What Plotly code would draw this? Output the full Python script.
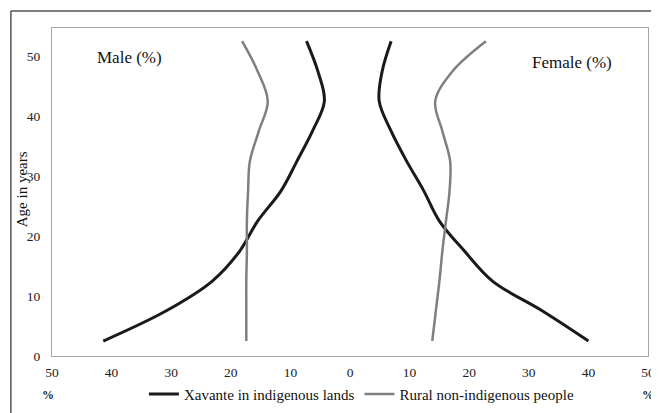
import plotly.graph_objects as go

ages = [2.5, 7.5, 12.5, 17.5, 22.5, 27.5, 32.5, 37.5, 42.5, 47.5, 52.5]
male_xavante = [41.4, 30.9, 23.1, 18.5, 15.5, 11.6, 8.9, 6.3, 4.3, 5.4, 7.3]
male_rural = [17.4, 17.4, 17.4, 17.3, 17.3, 17.1, 16.8, 15.3, 13.8, 15.5, 18.1]
female_xavante = [40.0, 32.3, 23.9, 19.2, 15.0, 12.4, 9.5, 6.9, 4.9, 5.4, 6.9]
female_rural = [13.8, 14.4, 15.0, 15.5, 16.1, 16.7, 16.8, 15.5, 14.3, 17.2, 22.8]

x_ticks = [-50, -40, -30, -20, -10, 0, 10, 20, 30, 40, 50]
x_labels = [str(abs(v)) for v in x_ticks]
y_ticks = [0, 10, 20, 30, 40, 50]

BLACK = "#1a1a1a"
GRAY = "#7f7f7f"
FONT = "Liberation Serif, Times New Roman, serif"

fig = go.Figure()
fig.add_trace(go.Scatter(x=[-v for v in male_xavante], y=ages, mode="lines",
                         line=dict(color=BLACK, width=3, shape="spline", smoothing=1),
                         name="Xavante in indigenous lands", legendgroup="x"))
fig.add_trace(go.Scatter(x=female_xavante, y=ages, mode="lines",
                         line=dict(color=BLACK, width=3, shape="spline", smoothing=1),
                         name="Xavante in indigenous lands", legendgroup="x", showlegend=False))
fig.add_trace(go.Scatter(x=[-v for v in male_rural], y=ages, mode="lines",
                         line=dict(color=GRAY, width=2.5, shape="spline", smoothing=1),
                         name="Rural non-indigenous people", legendgroup="r"))
fig.add_trace(go.Scatter(x=female_rural, y=ages, mode="lines",
                         line=dict(color=GRAY, width=2.5, shape="spline", smoothing=1),
                         name="Rural non-indigenous people", legendgroup="r", showlegend=False))

# page body has an 8px margin, so the figure is sized/offset to compensate
fig.update_layout(
    width=651, height=405,
    margin=dict(l=44, r=11, t=20, b=57, autoexpand=False),
    paper_bgcolor="white", plot_bgcolor="white",
    font=dict(family=FONT, size=13.5, color="#222"),
    showlegend=True,
    legend=dict(orientation="h", x=0.52, xanchor="center", y=-0.066, yanchor="top",
                font=dict(size=15, family=FONT, color="#111"), bgcolor="rgba(0,0,0,0)"),
    xaxis=dict(range=[-50, 50], tickvals=x_ticks, ticktext=x_labels, automargin=False,
               showgrid=False, zeroline=False, showline=True, linecolor="#a6a6a6",
               linewidth=1, mirror=True, ticks="", ticklabelstandoff=4,
               tickfont=dict(size=13.5, family=FONT, color="#222")),
    xaxis2=dict(range=[-50, 50], tickvals=[-50, 0, 50], overlaying="x", anchor="y",
                side="bottom", showgrid=False, zeroline=False, showline=False,
                automargin=False, ticks="outside", ticklen=4, tickcolor="#a6a6a6",
                showticklabels=False),
    yaxis=dict(range=[0, 54.7], tickvals=y_ticks, showgrid=False, zeroline=False,
               automargin=False,
               showline=True, linecolor="#a6a6a6", linewidth=1, mirror=True, ticks="",
               ticklabelstandoff=8, tickfont=dict(size=13.5, family=FONT, color="#222")),
    yaxis2=dict(range=[0, 54.7], tickvals=y_ticks, overlaying="y", anchor="free",
                position=0.5, side="left", showgrid=False, zeroline=False, automargin=False,
                showline=True, linecolor="#c8c8c8", linewidth=1, ticks="outside",
                ticklen=3, tickcolor="#c8c8c8", showticklabels=False),
)

fig.add_annotation(text="Age in years", xref="paper", yref="paper", x=-0.050, y=0.509,
                   textangle=-90, xanchor="center", yanchor="middle", showarrow=False,
                   font=dict(size=15, family=FONT, color="#111"))
fig.add_annotation(text="Male (%)", xref="paper", yref="paper", x=0.130, y=0.909,
                   xanchor="center", yanchor="middle",
                   showarrow=False, font=dict(size=17, family=FONT, color="#111"))
fig.add_annotation(text="Female (%)", xref="paper", yref="paper", x=0.873, y=0.896,
                   xanchor="center", yanchor="middle",
                   showarrow=False, font=dict(size=17, family=FONT, color="#111"))
fig.add_annotation(text="<b>%</b>", xref="paper", yref="paper", x=-0.007, y=-0.119,
                   xanchor="center", yanchor="middle",
                   showarrow=False, font=dict(size=12, family=FONT, color="#222"))
fig.add_annotation(text="<b>%</b>", xref="paper", yref="paper", x=1.0, y=-0.119,
                   xanchor="center", yanchor="middle",
                   showarrow=False, font=dict(size=12, family=FONT, color="#222"))

# outer frame (top and left edges visible)
fig.add_shape(type="line", xref="paper", yref="paper", x0=-0.069, x1=1.03,
              y0=1.052, y1=1.052, line=dict(color="#555", width=1.5))
fig.add_shape(type="line", xref="paper", yref="paper", x0=-0.069, x1=-0.069,
              y0=1.052, y1=-0.2, line=dict(color="#555", width=1.5))

fig.write_html("out.html")
